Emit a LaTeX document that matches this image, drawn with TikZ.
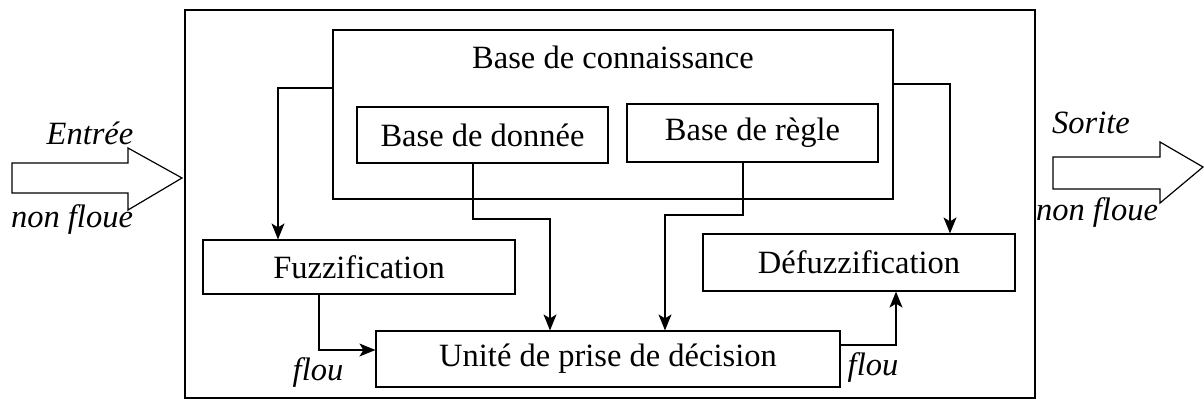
\documentclass[tikz,border=0pt]{standalone}
\usepackage{fontspec}
\setmainfont{Liberation Serif}
\usetikzlibrary{arrows.meta, calc}

\begin{document}
\begin{tikzpicture}[x=1pt, y=-1pt, line width=1.2pt, >={Stealth[length=16pt,width=13pt,inset=4pt]},
  font=\fontsize{32.5}{38}\selectfont,
  block/.style={draw, rectangle, inner sep=0pt},
  side/.style={font=\fontsize{32.5}{38}\selectfont\itshape, inner sep=0pt}]
  \useasboundingbox (0,0) rectangle (1204,407);

  %outer frame of the system
  \draw[line width=1.5pt] (185,10) rectangle (1035,398);

  %knowledge base and its two parts
  \draw (613,114.5) node[block, minimum width=560pt, minimum height=169pt] (know) {};
  \draw (613,57) node[inner sep=0pt] (knowtitle) {Base de connaissance};
  \draw (482.5,135) node[block, minimum width=251pt, minimum height=56pt] (data) {Base de donnée};
  \draw (752.5,133) node[block, minimum width=251pt, minimum height=58pt] (rule) {Base de règle};

  %processing blocks
  \draw (359,267) node[block, minimum width=312pt, minimum height=54pt] (fuzz) {Fuzzification};
  \draw (859,262.5) node[block, minimum width=312pt, minimum height=57pt] (defuzz) {Défuzzification};
  \draw (608,359) node[block, minimum width=464pt, minimum height=56pt] (unit) {Unité de prise de décision};

  %bends of the connectors
  \coordinate (j1) at (550,219);
  \coordinate (j2) at (665,215);

  %connectors between blocks
  \draw[->] ([yshift=26.5pt]know.west) -| ([xshift=-81pt]fuzz.north);
  \draw[->] ([yshift=30.5pt]know.east) -| ([xshift=91pt]defuzz.north);
  \draw[->] ([xshift=-9.5pt]data.south) |- (j1) -- (j1 |- unit.north);
  \draw[->] ([xshift=-9.5pt]rule.south) |- (j2) -- (j2 |- unit.north);
  \draw[->] ([xshift=-40pt]fuzz.south) |- ([yshift=9pt]unit.west);
  \draw[->] ([yshift=14pt]unit.east) -| ([xshift=37pt]defuzz.south);
  \draw (318,373) node[side] (flouin) {flou};
  \draw (873,368) node[side] (flouout) {flou};

  %input and output arrows
  \draw (12,163) -- (128,163) -- (128,148) -- (182,178) -- (128,210) -- (128,193) -- (12,193) -- cycle;
  \draw (1053,157) -- (1160,157) -- (1160,142) -- (1203,167) -- (1160,203) -- (1160,189) -- (1053,189) -- cycle;
  \draw (90,133) node[side] (entree) {Entrée};
  \draw (72,220) node[side] (nfin) {non floue};
  \draw (1091,123) node[side] (sortie) {Sorite};
  \draw (1097,213) node[side] (nfout) {non floue};
\end{tikzpicture}
\end{document}
